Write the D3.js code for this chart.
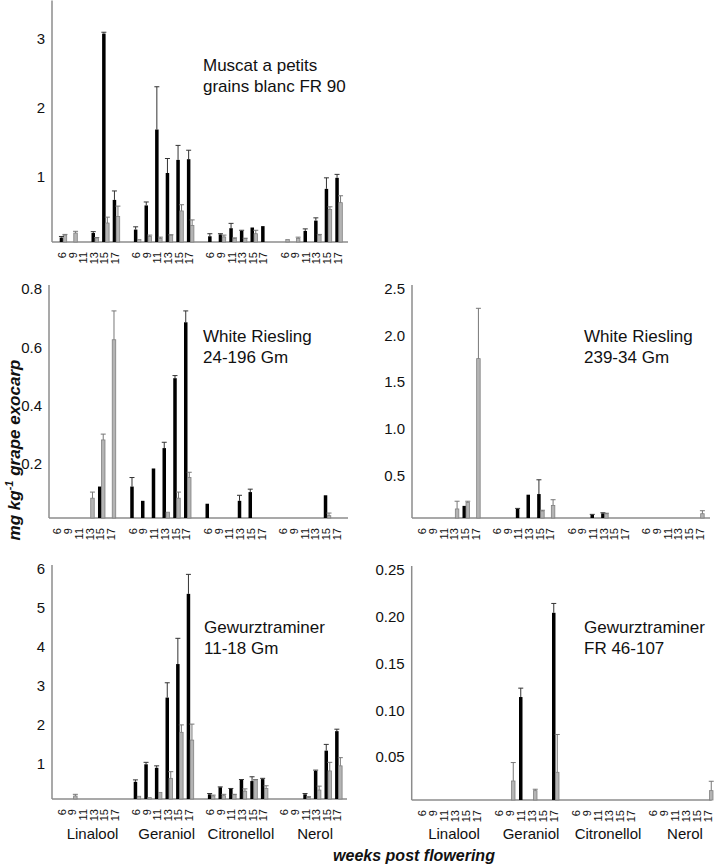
<!DOCTYPE html>
<html><head><meta charset="utf-8">
<script src="https://cdn.jsdelivr.net/npm/d3@7"></script>
<style>body{margin:0;background:#fff} text{font-family:"Liberation Sans",Arial,sans-serif}</style>
</head><body><svg id="c" width="722" height="866"></svg>
<script>
// ---------- categories ----------
const compounds = ["Linalool", "Geraniol", "Citronellol", "Nerol"];
const weeks = ["6", "9", "11", "13", "15", "17"];

// ---------- values (order: Linalool 6..17, Geraniol 6..17, Citronellol 6..17, Nerol 6..17) ----------
// Muscat a petits grains blanc FR 90
const muscatDark    = [0.064,0,0,0.13,3.02,0.61, 0.18,0.53,1.63,1.0,1.19,1.2, 0.083,0.11,0.2,0.16,0.21,0.23, 0,0,0.16,0.31,0.77,0.93];
const muscatDarkSd  = [0.016,0,0,0.02,0.02,0.13, 0.04,0.05,0.62,0.21,0.21,0.13, 0.037,0.01,0.07,0.01,0,0, 0,0,0.03,0.04,0.16,0.05];
const muscatLight   = [0.1,0.13,0,0.058,0.275,0.37, 0.035,0.08,0.05,0.1,0.45,0.24, 0,0.073,0.05,0.05,0.12,0, 0.035,0.05,0,0.1,0.47,0.57];
const muscatLightSd = [0.01,0.025,0,0.007,0.085,0.15, 0,0.02,0.02,0.005,0.09,0.08, 0,0.027,0.01,0.005,0.05,0, 0,0.02,0,0.01,0.04,0.1];
const muscatTicks = [1, 2, 3];

// White Riesling 24-196 Gm
const wr24Dark    = [0,0,0,0,0.108,0, 0.108,0.059,0.17,0.24,0.48,0.672, 0.049,0,0,0.059,0.089,0, 0,0,0,0,0.078,0];
const wr24DarkSd  = [0,0,0,0,0,0, 0.031,0,0,0.02,0.009,0.039, 0,0,0,0.019,0.01,0, 0,0,0,0,0,0];
const wr24Light   = [0,0,0,0.068,0.268,0.612, 0,0,0,0.02,0.068,0.139, 0,0,0,0,0,0, 0,0,0,0,0.008,0];
const wr24LightSd = [0,0,0,0.021,0.02,0.099, 0,0,0,0,0.021,0.018, 0,0,0,0,0,0, 0,0,0,0,0.009,0];
const wr24Ticks = [0.2, 0.4, 0.6, 0.8];

// White Riesling 239-34 Gm
const wr239Dark    = [0,0,0,0,0.13,0, 0,0,0.097,0.25,0.257,0, 0,0,0.035,0.05,0,0, 0,0,0,0,0,0];
const wr239DarkSd  = [0,0,0,0,0,0, 0,0,0.006,0,0.153,0, 0,0,0.004,0.006,0,0, 0,0,0,0,0,0];
const wr239Light   = [0,0,0,0.097,0.167,1.71, 0,0,0,0,0.075,0.135, 0,0,0,0.045,0,0, 0,0,0,0,0,0.046];
const wr239LightSd = [0,0,0,0.083,0.013,0.54, 0,0,0,0,0.008,0.061, 0,0,0,0.006,0,0, 0,0,0,0,0,0.032];
const wr239Ticks = [0.5, 1.0, 1.5, 2.0, 2.5];

// Gewurztraminer 11-18 Gm
const gw11Dark    = [0,0,0,0,0,0, 0.44,0.89,0.8,2.6,3.46,5.26, 0.12,0.3,0.26,0.49,0.46,0.51, 0,0,0.12,0.72,1.24,1.74];
const gw11DarkSd  = [0,0,0,0,0,0, 0.05,0.05,0.05,0.38,0.66,0.5, 0.02,0.01,0.01,0.01,0.11,0.02, 0,0,0.02,0.02,0.16,0.05];
const gw11Light   = [0,0.077,0,0,0,0, 0.07,0.035,0.17,0.53,1.71,1.51, 0.077,0.085,0.11,0.2,0.49,0.27, 0,0,0.04,0.23,0.72,0.85];
const gw11LightSd = [0,0.043,0,0,0,0, 0,0,0,0.17,0.19,0.41, 0.023,0.035,0.01,0.06,0.01,0.07, 0,0,0.02,0.1,0.22,0.21];
const gw11Ticks = [1, 2, 3, 4, 5, 6];

// Gewurztraminer FR 46-107
const gw46Dark    = [0,0,0,0,0,0, 0,0,0.11,0,0,0.2, 0,0,0,0,0,0, 0,0,0,0,0,0];
const gw46DarkSd  = [0,0,0,0,0,0, 0,0,0.0095,0,0,0.01, 0,0,0,0,0,0, 0,0,0,0,0,0];
const gw46Light   = [0,0,0,0,0,0, 0,0.0203,0,0.01,0,0.0296, 0,0,0,0,0,0, 0,0,0,0,0,0.01];
const gw46LightSd = [0,0,0,0,0,0, 0,0.0197,0,0.0015,0,0.0404, 0,0,0,0,0,0, 0,0,0,0,0,0.01];
const gw46Ticks = [0.05, 0.10, 0.15, 0.20, 0.25];

// ---------- build ----------
const slotKeys = [];
compounds.forEach((c, i) => {
  weeks.forEach(w => slotKeys.push(c + "|" + w));
  if (i < compounds.length - 1) slotKeys.push("gap" + i);
});
const dataKeys = [];
compounds.forEach(c => weeks.forEach(w => dataKeys.push(c + "|" + w)));

const panels = [
  {name:["Muscat a petits","grains blanc FR 90"], dark:muscatDark, darkSd:muscatDarkSd, light:muscatLight, lightSd:muscatLightSd,
   ticks:muscatTicks, fmt:"d", max:3.5, axisX:[52,348], band:[57.9,344.1], y:[242,0.5], nameXY:[203,71], groups:false},
  {name:["White Riesling","24-196 Gm"], dark:wr24Dark, darkSd:wr24DarkSd, light:wr24Light, lightSd:wr24LightSd,
   ticks:wr24Ticks, fmt:".1f", max:0.8, axisX:[49,348], band:[53.1,343.4], y:[518,285], nameXY:[203,342], groups:false},
  {name:["White Riesling","239-34 Gm"], dark:wr239Dark, darkSd:wr239DarkSd, light:wr239Light, lightSd:wr239LightSd,
   ticks:wr239Ticks, fmt:".1f", max:2.5, axisX:[412,710], band:[418,706], y:[518,285], nameXY:[584,342], groups:false},
  {name:["Gewurztraminer","11-18 Gm"], dark:gw11Dark, darkSd:gw11DarkSd, light:gw11Light, lightSd:gw11LightSd,
   ticks:gw11Ticks, fmt:"d", max:6, axisX:[52,347], band:[57.7,343.9], y:[799,565], nameXY:[204,633], groups:true},
  {name:["Gewurztraminer","FR 46-107"], dark:gw46Dark, darkSd:gw46DarkSd, light:gw46Light, lightSd:gw46LightSd,
   ticks:gw46Ticks, fmt:".2f", max:0.25, axisX:[411.7,711.7], band:[418,715], y:[800,566], nameXY:[584,633], groups:true}
];

const svg = d3.select("#c");
const axisColor = "#8c8c8c";
const darkW = 3.5, lightW = 3.5, capW = 5;

panels.forEach(p => {
  const g = svg.append("g");
  const x = d3.scaleBand().domain(slotKeys).range(p.band).padding(0);
  const y = d3.scaleLinear().domain([0, p.max]).range(p.y);
  const cx = k => x(k) + x.bandwidth() / 2;

  // y axis line
  g.append("line").attr("x1", p.axisX[0]).attr("x2", p.axisX[0])
    .attr("y1", y(0)).attr("y2", y(p.max)).attr("stroke", axisColor).attr("stroke-width", 1.5);
  // x axis line
  g.append("line").attr("x1", p.axisX[0]).attr("x2", p.axisX[1])
    .attr("y1", y(0)).attr("y2", y(0)).attr("stroke", axisColor).attr("stroke-width", 1.5);

  // y tick labels
  const fmt = d3.format(p.fmt);
  g.selectAll(".yt").data(p.ticks).enter().append("text")
    .attr("x", p.axisX[0] - 7).attr("y", d => y(d) + 4).attr("dy", "0.35em")
    .attr("text-anchor", "end").attr("font-size", 15).attr("fill", "#111")
    .text(d => fmt(d));

  // x tick labels (rotated)
  g.selectAll(".xt").data(dataKeys).enter().append("text")
    .attr("transform", d => `translate(${cx(d) - 1},${y(0) + 10}) rotate(-90)`)
    .attr("dy", "0.35em").attr("text-anchor", "end").attr("font-size", 11).attr("fill", "#111")
    .text(d => d.split("|")[1]);

  const rows = dataKeys.map((k, i) => ({k, d: p.dark[i], ds: p.darkSd[i], l: p.light[i], ls: p.lightSd[i]}));

  // dark bars
  g.selectAll(".db").data(rows.filter(r => r.d > 0)).enter().append("rect")
    .attr("x", r => cx(r.k) - darkW).attr("width", darkW)
    .attr("y", r => y(r.d)).attr("height", r => y(0) - y(r.d)).attr("fill", "#000");
  // light bars
  g.selectAll(".lb").data(rows.filter(r => r.l > 0)).enter().append("rect")
    .attr("x", r => cx(r.k)).attr("width", lightW)
    .attr("y", r => y(r.l)).attr("height", r => y(0) - y(r.l))
    .attr("fill", "#b4b4b4").attr("stroke", "#808080").attr("stroke-width", 0.8);

  // error bars dark
  const de = rows.filter(r => r.d > 0 && r.ds > 0);
  g.selectAll(".de").data(de).enter().append("path")
    .attr("d", r => {
      const xc = cx(r.k) - darkW / 2, y0 = y(r.d), y1 = y(r.d + r.ds);
      return `M${xc},${y0}V${y1}M${xc - capW / 2},${y1}H${xc + capW / 2}`;
    })
    .attr("stroke", "#333").attr("stroke-width", 1).attr("fill", "none");
  // error bars light
  const le = rows.filter(r => r.l > 0 && r.ls > 0);
  g.selectAll(".le").data(le).enter().append("path")
    .attr("d", r => {
      const xc = cx(r.k) + lightW / 2, y0 = y(r.l), y1 = y(r.l + r.ls);
      return `M${xc},${y0}V${y1}M${xc - capW / 2},${y1}H${xc + capW / 2}`;
    })
    .attr("stroke", "#777").attr("stroke-width", 1).attr("fill", "none");

  // panel name
  const t = g.append("text").attr("x", p.nameXY[0]).attr("y", p.nameXY[1])
    .attr("font-size", 17).attr("fill", "#111");
  p.name.forEach((s, i) => t.append("tspan").attr("x", p.nameXY[0]).attr("dy", i === 0 ? 0 : 21).text(s));

  // group labels
  if (p.groups) {
    g.selectAll(".gl").data(compounds).enter().append("text")
      .attr("x", c => (cx(c + "|6") + cx(c + "|17")) / 2 + 3)
      .attr("y", 839).attr("text-anchor", "middle").attr("font-size", 15).attr("fill", "#111")
      .text(c => c);
  }
});

// axis titles
const yt = svg.append("text")
  .attr("transform", "translate(20,450) rotate(-90)")
  .attr("text-anchor", "middle").attr("font-size", 17).attr("font-weight", "bold")
  .attr("font-style", "italic").attr("fill", "#111");
yt.append("tspan").text("mg kg");
yt.append("tspan").attr("font-size", 11).attr("dy", -7).text("-1");
yt.append("tspan").attr("dy", 7).text(" grape exocarp");

svg.append("text").attr("x", 414).attr("y", 861).attr("text-anchor", "middle")
  .attr("font-size", 16).attr("font-weight", "bold").attr("font-style", "italic").attr("fill", "#111")
  .text("weeks post flowering");
</script>
</body></html>
